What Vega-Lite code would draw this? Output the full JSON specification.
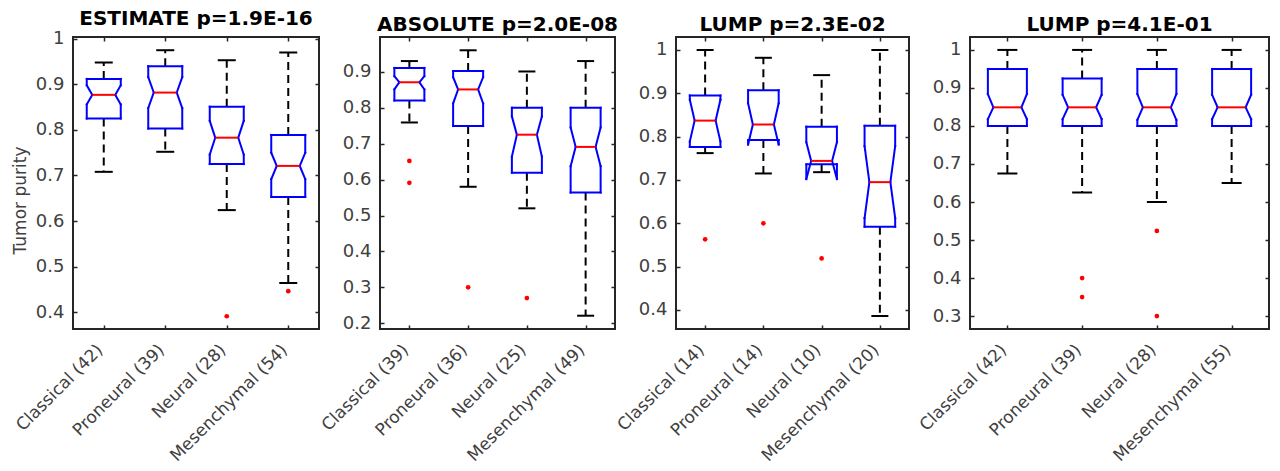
{
"$schema": "https://vega.github.io/schema/vega-lite/v6.json",
"padding": {"left": 10, "top": 7, "right": 5, "bottom": 0},
"spacing": 61,
"bounds": "flush",
"config": {
 "font": "DejaVu Sans",
 "view": {"stroke": "#262626", "strokeWidth": 2},
 "axis": {"labelFont": "DejaVu Sans", "labelFontSize": 17, "labelColor": "#404040", "domain": false, "grid": false, "tickColor": "#262626", "tickSize": -4, "tickWidth": 1.5, "titleFont": "DejaVu Sans", "titleFontSize": 17, "titleFontWeight": "normal", "titleColor": "#404040"},
 "axisY": {"labelPadding": 13, "labelFontSize": 18},
 "axisX": {"labelPadding": 22, "labelAlign": "right", "labelBaseline": "middle", "labelOffset": -4},
 "title": {"font": "DejaVu Sans", "fontSize": 20, "fontWeight": "bold", "color": "#000000", "offset": 1}
},
"data": {"values": [
 {"panel":"ESTIMATE","group":"Classical (42)","whi":0.948,"q3":0.912,"nhi":0.898,"med":0.877,"nlo":0.856,"q1":0.825,"wlo":0.708},
 {"panel":"ESTIMATE","group":"Proneural (39)","whi":0.975,"q3":0.94,"nhi":0.916,"med":0.882,"nlo":0.848,"q1":0.803,"wlo":0.752},
 {"panel":"ESTIMATE","group":"Neural (28)","whi":0.953,"q3":0.851,"nhi":0.82,"med":0.783,"nlo":0.746,"q1":0.725,"wlo":0.624},
 {"panel":"ESTIMATE","group":"Mesenchymal (54)","whi":0.97,"q3":0.789,"nhi":0.75,"med":0.721,"nlo":0.692,"q1":0.653,"wlo":0.464},
 {"panel":"ABSOLUTE","group":"Classical (39)","whi":0.93,"q3":0.911,"nhi":0.888,"med":0.871,"nlo":0.851,"q1":0.82,"wlo":0.759},
 {"panel":"ABSOLUTE","group":"Proneural (36)","whi":0.96,"q3":0.902,"nhi":0.885,"med":0.851,"nlo":0.812,"q1":0.749,"wlo":0.58},
 {"panel":"ABSOLUTE","group":"Neural (25)","whi":0.901,"q3":0.8,"nhi":0.776,"med":0.725,"nlo":0.664,"q1":0.619,"wlo":0.52},
 {"panel":"ABSOLUTE","group":"Mesenchymal (49)","whi":0.93,"q3":0.8,"nhi":0.745,"med":0.691,"nlo":0.637,"q1":0.564,"wlo":0.221},
 {"panel":"LUMP1","group":"Classical (14)","whi":1.0,"q3":0.895,"nhi":0.885,"med":0.837,"nlo":0.789,"q1":0.776,"wlo":0.762},
 {"panel":"LUMP1","group":"Proneural (14)","whi":0.982,"q3":0.907,"nhi":0.877,"med":0.828,"nlo":0.782,"q1":0.792,"wlo":0.715},
 {"panel":"LUMP1","group":"Neural (10)","whi":0.942,"q3":0.823,"nhi":0.787,"med":0.744,"nlo":0.702,"q1":0.736,"wlo":0.718},
 {"panel":"LUMP1","group":"Mesenchymal (20)","whi":1.0,"q3":0.825,"nhi":0.778,"med":0.695,"nlo":0.612,"q1":0.592,"wlo":0.386},
 {"panel":"LUMP2","group":"Classical (42)","whi":1.0,"q3":0.95,"nhi":0.884,"med":0.849,"nlo":0.818,"q1":0.8,"wlo":0.675},
 {"panel":"LUMP2","group":"Proneural (39)","whi":1.0,"q3":0.925,"nhi":0.882,"med":0.849,"nlo":0.818,"q1":0.8,"wlo":0.625},
 {"panel":"LUMP2","group":"Neural (28)","whi":1.0,"q3":0.95,"nhi":0.884,"med":0.849,"nlo":0.816,"q1":0.8,"wlo":0.6},
 {"panel":"LUMP2","group":"Mesenchymal (55)","whi":1.0,"q3":0.95,"nhi":0.882,"med":0.849,"nlo":0.818,"q1":0.8,"wlo":0.65},
 {"panel":"ESTIMATE","group":"Neural (28)","v":0.391},
 {"panel":"ESTIMATE","group":"Mesenchymal (54)","v":0.446},
 {"panel":"ABSOLUTE","group":"Classical (39)","v":0.652},
 {"panel":"ABSOLUTE","group":"Classical (39)","v":0.591},
 {"panel":"ABSOLUTE","group":"Proneural (36)","v":0.3},
 {"panel":"ABSOLUTE","group":"Neural (25)","v":0.27},
 {"panel":"LUMP1","group":"Classical (14)","v":0.563},
 {"panel":"LUMP1","group":"Proneural (14)","v":0.6},
 {"panel":"LUMP1","group":"Neural (10)","v":0.519},
 {"panel":"LUMP2","group":"Proneural (39)","v":0.4},
 {"panel":"LUMP2","group":"Proneural (39)","v":0.35},
 {"panel":"LUMP2","group":"Neural (28)","v":0.524},
 {"panel":"LUMP2","group":"Neural (28)","v":0.3}
]},
"hconcat": [
{
 "title": "ESTIMATE p=1.9E-16",
 "width": 246, "height": 292,
 "transform": [{"filter": "datum.panel === 'ESTIMATE'"}],
 "encoding": {"x": {"field": "group", "type": "nominal", "sort": null, "scale": {"type": "point", "padding": 0.5}, "axis": null}},
 "resolve": {"axis": {"x": "independent", "y": "independent"}},
 "layer": [
  {"mark": {"type": "rule", "color": "#000000", "strokeWidth": 2, "strokeDash": [8, 5]},
   "encoding": {"x": {"field": "group", "type": "nominal", "sort": null, "scale": {"type": "point", "padding": 0.5}, "axis": {"title": null, "labelAngle": -45}},
    "y": {"field": "q3", "type": "quantitative", "scale": {"domain": [0.363, 1.004], "nice": false, "zero": false}, "axis": {"title": "Tumor purity", "values": [0.4,0.5,0.6,0.7,0.8,0.9,1], "format": ".1~f", "titlePadding": 6, "titleY": 163}},
    "y2": {"field": "whi"}}},
  {"mark": {"type": "rule", "color": "#000000", "strokeWidth": 2, "strokeDash": [8, 5]},
   "encoding": {"y": {"field": "q1", "type": "quantitative", "scale": {"domain": [0.363, 1.004], "nice": false, "zero": false}, "axis": null}, "y2": {"field": "wlo"}}},
  {"mark": {"type": "rule", "color": "#000000", "strokeWidth": 2, "xOffset": -9, "x2Offset": 9},
   "encoding": {"x2": {"field": "group"}, "y": {"field": "whi", "type": "quantitative", "scale": {"domain": [0.363, 1.004], "nice": false, "zero": false}, "axis": null}}},
  {"mark": {"type": "rule", "color": "#000000", "strokeWidth": 2, "xOffset": -9, "x2Offset": 9},
   "encoding": {"x2": {"field": "group"}, "y": {"field": "wlo", "type": "quantitative", "scale": {"domain": [0.363, 1.004], "nice": false, "zero": false}, "axis": null}}},
  {"mark": {"type": "rule", "color": "#0000ff", "strokeWidth": 2, "strokeCap": "square", "xOffset": -17, "x2Offset": 17},
   "encoding": {"x2": {"field": "group"}, "y": {"field": "q3", "type": "quantitative", "scale": {"domain": [0.363, 1.004], "nice": false, "zero": false}, "axis": null}}},
  {"mark": {"type": "rule", "color": "#0000ff", "strokeWidth": 2, "strokeCap": "square", "xOffset": -17, "x2Offset": 17},
   "encoding": {"x2": {"field": "group"}, "y": {"field": "q1", "type": "quantitative", "scale": {"domain": [0.363, 1.004], "nice": false, "zero": false}, "axis": null}}},
  {"mark": {"type": "rule", "color": "#0000ff", "strokeWidth": 2, "strokeCap": "square", "xOffset": -17},
   "encoding": {"y": {"field": "q3", "type": "quantitative", "scale": {"domain": [0.363, 1.004], "nice": false, "zero": false}, "axis": null}, "y2": {"field": "nhi"}}},
  {"mark": {"type": "rule", "color": "#0000ff", "strokeWidth": 2, "strokeCap": "square", "xOffset": 17},
   "encoding": {"y": {"field": "q3", "type": "quantitative", "scale": {"domain": [0.363, 1.004], "nice": false, "zero": false}, "axis": null}, "y2": {"field": "nhi"}}},
  {"mark": {"type": "rule", "color": "#0000ff", "strokeWidth": 2, "strokeCap": "square", "xOffset": -17},
   "encoding": {"y": {"field": "nlo", "type": "quantitative", "scale": {"domain": [0.363, 1.004], "nice": false, "zero": false}, "axis": null}, "y2": {"field": "q1"}}},
  {"mark": {"type": "rule", "color": "#0000ff", "strokeWidth": 2, "strokeCap": "square", "xOffset": 17},
   "encoding": {"y": {"field": "nlo", "type": "quantitative", "scale": {"domain": [0.363, 1.004], "nice": false, "zero": false}, "axis": null}, "y2": {"field": "q1"}}},
  {"mark": {"type": "rule", "color": "#0000ff", "strokeWidth": 2, "strokeCap": "square", "xOffset": -17, "x2Offset": -11.5},
   "encoding": {"x2": {"field": "group"}, "y": {"field": "nhi", "type": "quantitative", "scale": {"domain": [0.363, 1.004], "nice": false, "zero": false}, "axis": null}, "y2": {"field": "med"}}},
  {"mark": {"type": "rule", "color": "#0000ff", "strokeWidth": 2, "strokeCap": "square", "xOffset": 17, "x2Offset": 11.5},
   "encoding": {"x2": {"field": "group"}, "y": {"field": "nhi", "type": "quantitative", "scale": {"domain": [0.363, 1.004], "nice": false, "zero": false}, "axis": null}, "y2": {"field": "med"}}},
  {"mark": {"type": "rule", "color": "#0000ff", "strokeWidth": 2, "strokeCap": "square", "xOffset": -17, "x2Offset": -11.5},
   "encoding": {"x2": {"field": "group"}, "y": {"field": "nlo", "type": "quantitative", "scale": {"domain": [0.363, 1.004], "nice": false, "zero": false}, "axis": null}, "y2": {"field": "med"}}},
  {"mark": {"type": "rule", "color": "#0000ff", "strokeWidth": 2, "strokeCap": "square", "xOffset": 17, "x2Offset": 11.5},
   "encoding": {"x2": {"field": "group"}, "y": {"field": "nlo", "type": "quantitative", "scale": {"domain": [0.363, 1.004], "nice": false, "zero": false}, "axis": null}, "y2": {"field": "med"}}},
  {"mark": {"type": "rule", "color": "#ff0000", "strokeWidth": 2, "xOffset": -11.5, "x2Offset": 11.5},
   "encoding": {"x": {"field": "group", "type": "nominal", "sort": null, "scale": {"type": "point", "padding": 0.5}, "axis": {"orient": "top", "labels": false, "title": null, "minExtent": 0, "maxExtent": 0}},
    "x2": {"field": "group"}, "y": {"field": "med", "type": "quantitative", "scale": {"domain": [0.363, 1.004], "nice": false, "zero": false}, "axis": {"orient": "right", "labels": false, "title": null, "values": [0.4,0.5,0.6,0.7,0.8,0.9,1], "minExtent": 0, "maxExtent": 0}}}},
  {"mark": {"type": "point", "filled": true, "color": "#ff0000", "size": 22, "opacity": 1},
   "encoding": {"y": {"field": "v", "type": "quantitative", "scale": {"domain": [0.363, 1.004], "nice": false, "zero": false}, "axis": null}}}
 ]
},
{
 "title": "ABSOLUTE p=2.0E-08",
 "width": 235, "height": 292,
 "transform": [{"filter": "datum.panel === 'ABSOLUTE'"}],
 "encoding": {"x": {"field": "group", "type": "nominal", "sort": null, "scale": {"type": "point", "padding": 0.5}, "axis": null}},
 "resolve": {"axis": {"x": "independent", "y": "independent"}},
 "layer": [
  {"mark": {"type": "rule", "color": "#000000", "strokeWidth": 2, "strokeDash": [8, 5]},
   "encoding": {"x": {"field": "group", "type": "nominal", "sort": null, "scale": {"type": "point", "padding": 0.5}, "axis": {"title": null, "labelAngle": -45}},
    "y": {"field": "q3", "type": "quantitative", "scale": {"domain": [0.184, 0.997], "nice": false, "zero": false}, "axis": {"title": null, "values": [0.2,0.3,0.4,0.5,0.6,0.7,0.8,0.9], "format": ".1~f"}},
    "y2": {"field": "whi"}}},
  {"mark": {"type": "rule", "color": "#000000", "strokeWidth": 2, "strokeDash": [8, 5]},
   "encoding": {"y": {"field": "q1", "type": "quantitative", "scale": {"domain": [0.184, 0.997], "nice": false, "zero": false}, "axis": null}, "y2": {"field": "wlo"}}},
  {"mark": {"type": "rule", "color": "#000000", "strokeWidth": 2, "xOffset": -8.5, "x2Offset": 8.5},
   "encoding": {"x2": {"field": "group"}, "y": {"field": "whi", "type": "quantitative", "scale": {"domain": [0.184, 0.997], "nice": false, "zero": false}, "axis": null}}},
  {"mark": {"type": "rule", "color": "#000000", "strokeWidth": 2, "xOffset": -8.5, "x2Offset": 8.5},
   "encoding": {"x2": {"field": "group"}, "y": {"field": "wlo", "type": "quantitative", "scale": {"domain": [0.184, 0.997], "nice": false, "zero": false}, "axis": null}}},
  {"mark": {"type": "rule", "color": "#0000ff", "strokeWidth": 2, "strokeCap": "square", "xOffset": -15, "x2Offset": 15},
   "encoding": {"x2": {"field": "group"}, "y": {"field": "q3", "type": "quantitative", "scale": {"domain": [0.184, 0.997], "nice": false, "zero": false}, "axis": null}}},
  {"mark": {"type": "rule", "color": "#0000ff", "strokeWidth": 2, "strokeCap": "square", "xOffset": -15, "x2Offset": 15},
   "encoding": {"x2": {"field": "group"}, "y": {"field": "q1", "type": "quantitative", "scale": {"domain": [0.184, 0.997], "nice": false, "zero": false}, "axis": null}}},
  {"mark": {"type": "rule", "color": "#0000ff", "strokeWidth": 2, "strokeCap": "square", "xOffset": -15},
   "encoding": {"y": {"field": "q3", "type": "quantitative", "scale": {"domain": [0.184, 0.997], "nice": false, "zero": false}, "axis": null}, "y2": {"field": "nhi"}}},
  {"mark": {"type": "rule", "color": "#0000ff", "strokeWidth": 2, "strokeCap": "square", "xOffset": 15},
   "encoding": {"y": {"field": "q3", "type": "quantitative", "scale": {"domain": [0.184, 0.997], "nice": false, "zero": false}, "axis": null}, "y2": {"field": "nhi"}}},
  {"mark": {"type": "rule", "color": "#0000ff", "strokeWidth": 2, "strokeCap": "square", "xOffset": -15},
   "encoding": {"y": {"field": "nlo", "type": "quantitative", "scale": {"domain": [0.184, 0.997], "nice": false, "zero": false}, "axis": null}, "y2": {"field": "q1"}}},
  {"mark": {"type": "rule", "color": "#0000ff", "strokeWidth": 2, "strokeCap": "square", "xOffset": 15},
   "encoding": {"y": {"field": "nlo", "type": "quantitative", "scale": {"domain": [0.184, 0.997], "nice": false, "zero": false}, "axis": null}, "y2": {"field": "q1"}}},
  {"mark": {"type": "rule", "color": "#0000ff", "strokeWidth": 2, "strokeCap": "square", "xOffset": -15, "x2Offset": -10},
   "encoding": {"x2": {"field": "group"}, "y": {"field": "nhi", "type": "quantitative", "scale": {"domain": [0.184, 0.997], "nice": false, "zero": false}, "axis": null}, "y2": {"field": "med"}}},
  {"mark": {"type": "rule", "color": "#0000ff", "strokeWidth": 2, "strokeCap": "square", "xOffset": 15, "x2Offset": 10},
   "encoding": {"x2": {"field": "group"}, "y": {"field": "nhi", "type": "quantitative", "scale": {"domain": [0.184, 0.997], "nice": false, "zero": false}, "axis": null}, "y2": {"field": "med"}}},
  {"mark": {"type": "rule", "color": "#0000ff", "strokeWidth": 2, "strokeCap": "square", "xOffset": -15, "x2Offset": -10},
   "encoding": {"x2": {"field": "group"}, "y": {"field": "nlo", "type": "quantitative", "scale": {"domain": [0.184, 0.997], "nice": false, "zero": false}, "axis": null}, "y2": {"field": "med"}}},
  {"mark": {"type": "rule", "color": "#0000ff", "strokeWidth": 2, "strokeCap": "square", "xOffset": 15, "x2Offset": 10},
   "encoding": {"x2": {"field": "group"}, "y": {"field": "nlo", "type": "quantitative", "scale": {"domain": [0.184, 0.997], "nice": false, "zero": false}, "axis": null}, "y2": {"field": "med"}}},
  {"mark": {"type": "rule", "color": "#ff0000", "strokeWidth": 2, "xOffset": -10, "x2Offset": 10},
   "encoding": {"x": {"field": "group", "type": "nominal", "sort": null, "scale": {"type": "point", "padding": 0.5}, "axis": {"orient": "top", "labels": false, "title": null, "minExtent": 0, "maxExtent": 0}},
    "x2": {"field": "group"}, "y": {"field": "med", "type": "quantitative", "scale": {"domain": [0.184, 0.997], "nice": false, "zero": false}, "axis": {"orient": "right", "labels": false, "title": null, "values": [0.2,0.3,0.4,0.5,0.6,0.7,0.8,0.9], "minExtent": 0, "maxExtent": 0}}}},
  {"mark": {"type": "point", "filled": true, "color": "#ff0000", "size": 22, "opacity": 1},
   "encoding": {"y": {"field": "v", "type": "quantitative", "scale": {"domain": [0.184, 0.997], "nice": false, "zero": false}, "axis": null}}}
 ]
},
{
 "title": "LUMP p=2.3E-02",
 "width": 233, "height": 292,
 "transform": [{"filter": "datum.panel === 'LUMP1'"}],
 "encoding": {"x": {"field": "group", "type": "nominal", "sort": null, "scale": {"type": "point", "padding": 0.5}, "axis": null}},
 "resolve": {"axis": {"x": "independent", "y": "independent"}},
 "layer": [
  {"mark": {"type": "rule", "color": "#000000", "strokeWidth": 2, "strokeDash": [8, 5]},
   "encoding": {"x": {"field": "group", "type": "nominal", "sort": null, "scale": {"type": "point", "padding": 0.5}, "axis": {"title": null, "labelAngle": -45}},
    "y": {"field": "q3", "type": "quantitative", "scale": {"domain": [0.356, 1.03], "nice": false, "zero": false}, "axis": {"title": null, "values": [0.4,0.5,0.6,0.7,0.8,0.9,1], "format": ".1~f"}},
    "y2": {"field": "whi"}}},
  {"mark": {"type": "rule", "color": "#000000", "strokeWidth": 2, "strokeDash": [8, 5]},
   "encoding": {"y": {"field": "q1", "type": "quantitative", "scale": {"domain": [0.356, 1.03], "nice": false, "zero": false}, "axis": null}, "y2": {"field": "wlo"}}},
  {"mark": {"type": "rule", "color": "#000000", "strokeWidth": 2, "xOffset": -8.5, "x2Offset": 8.5},
   "encoding": {"x2": {"field": "group"}, "y": {"field": "whi", "type": "quantitative", "scale": {"domain": [0.356, 1.03], "nice": false, "zero": false}, "axis": null}}},
  {"mark": {"type": "rule", "color": "#000000", "strokeWidth": 2, "xOffset": -8.5, "x2Offset": 8.5},
   "encoding": {"x2": {"field": "group"}, "y": {"field": "wlo", "type": "quantitative", "scale": {"domain": [0.356, 1.03], "nice": false, "zero": false}, "axis": null}}},
  {"mark": {"type": "rule", "color": "#0000ff", "strokeWidth": 2, "strokeCap": "square", "xOffset": -15.3, "x2Offset": 15.3},
   "encoding": {"x2": {"field": "group"}, "y": {"field": "q3", "type": "quantitative", "scale": {"domain": [0.356, 1.03], "nice": false, "zero": false}, "axis": null}}},
  {"mark": {"type": "rule", "color": "#0000ff", "strokeWidth": 2, "strokeCap": "square", "xOffset": -15.3, "x2Offset": 15.3},
   "encoding": {"x2": {"field": "group"}, "y": {"field": "q1", "type": "quantitative", "scale": {"domain": [0.356, 1.03], "nice": false, "zero": false}, "axis": null}}},
  {"mark": {"type": "rule", "color": "#0000ff", "strokeWidth": 2, "strokeCap": "square", "xOffset": -15.3},
   "encoding": {"y": {"field": "q3", "type": "quantitative", "scale": {"domain": [0.356, 1.03], "nice": false, "zero": false}, "axis": null}, "y2": {"field": "nhi"}}},
  {"mark": {"type": "rule", "color": "#0000ff", "strokeWidth": 2, "strokeCap": "square", "xOffset": 15.3},
   "encoding": {"y": {"field": "q3", "type": "quantitative", "scale": {"domain": [0.356, 1.03], "nice": false, "zero": false}, "axis": null}, "y2": {"field": "nhi"}}},
  {"mark": {"type": "rule", "color": "#0000ff", "strokeWidth": 2, "strokeCap": "square", "xOffset": -15.3},
   "encoding": {"y": {"field": "nlo", "type": "quantitative", "scale": {"domain": [0.356, 1.03], "nice": false, "zero": false}, "axis": null}, "y2": {"field": "q1"}}},
  {"mark": {"type": "rule", "color": "#0000ff", "strokeWidth": 2, "strokeCap": "square", "xOffset": 15.3},
   "encoding": {"y": {"field": "nlo", "type": "quantitative", "scale": {"domain": [0.356, 1.03], "nice": false, "zero": false}, "axis": null}, "y2": {"field": "q1"}}},
  {"mark": {"type": "rule", "color": "#0000ff", "strokeWidth": 2, "strokeCap": "square", "xOffset": -15.3, "x2Offset": -10.5},
   "encoding": {"x2": {"field": "group"}, "y": {"field": "nhi", "type": "quantitative", "scale": {"domain": [0.356, 1.03], "nice": false, "zero": false}, "axis": null}, "y2": {"field": "med"}}},
  {"mark": {"type": "rule", "color": "#0000ff", "strokeWidth": 2, "strokeCap": "square", "xOffset": 15.3, "x2Offset": 10.5},
   "encoding": {"x2": {"field": "group"}, "y": {"field": "nhi", "type": "quantitative", "scale": {"domain": [0.356, 1.03], "nice": false, "zero": false}, "axis": null}, "y2": {"field": "med"}}},
  {"mark": {"type": "rule", "color": "#0000ff", "strokeWidth": 2, "strokeCap": "square", "xOffset": -15.3, "x2Offset": -10.5},
   "encoding": {"x2": {"field": "group"}, "y": {"field": "nlo", "type": "quantitative", "scale": {"domain": [0.356, 1.03], "nice": false, "zero": false}, "axis": null}, "y2": {"field": "med"}}},
  {"mark": {"type": "rule", "color": "#0000ff", "strokeWidth": 2, "strokeCap": "square", "xOffset": 15.3, "x2Offset": 10.5},
   "encoding": {"x2": {"field": "group"}, "y": {"field": "nlo", "type": "quantitative", "scale": {"domain": [0.356, 1.03], "nice": false, "zero": false}, "axis": null}, "y2": {"field": "med"}}},
  {"mark": {"type": "rule", "color": "#ff0000", "strokeWidth": 2, "xOffset": -10.5, "x2Offset": 10.5},
   "encoding": {"x": {"field": "group", "type": "nominal", "sort": null, "scale": {"type": "point", "padding": 0.5}, "axis": {"orient": "top", "labels": false, "title": null, "minExtent": 0, "maxExtent": 0}},
    "x2": {"field": "group"}, "y": {"field": "med", "type": "quantitative", "scale": {"domain": [0.356, 1.03], "nice": false, "zero": false}, "axis": {"orient": "right", "labels": false, "title": null, "values": [0.4,0.5,0.6,0.7,0.8,0.9,1], "minExtent": 0, "maxExtent": 0}}}},
  {"mark": {"type": "point", "filled": true, "color": "#ff0000", "size": 22, "opacity": 1},
   "encoding": {"y": {"field": "v", "type": "quantitative", "scale": {"domain": [0.356, 1.03], "nice": false, "zero": false}, "axis": null}}}
 ]
},
{
 "title": "LUMP p=4.1E-01",
 "width": 299, "height": 292,
 "transform": [{"filter": "datum.panel === 'LUMP2'"}],
 "encoding": {"x": {"field": "group", "type": "nominal", "sort": null, "scale": {"type": "point", "padding": 0.5}, "axis": null}},
 "resolve": {"axis": {"x": "independent", "y": "independent"}},
 "layer": [
  {"mark": {"type": "rule", "color": "#000000", "strokeWidth": 2, "strokeDash": [8, 5]},
   "encoding": {"x": {"field": "group", "type": "nominal", "sort": null, "scale": {"type": "point", "padding": 0.5}, "axis": {"title": null, "labelAngle": -45}},
    "y": {"field": "q3", "type": "quantitative", "scale": {"domain": [0.266, 1.034], "nice": false, "zero": false}, "axis": {"title": null, "values": [0.3,0.4,0.5,0.6,0.7,0.8,0.9,1], "format": ".1~f"}},
    "y2": {"field": "whi"}}},
  {"mark": {"type": "rule", "color": "#000000", "strokeWidth": 2, "strokeDash": [8, 5]},
   "encoding": {"y": {"field": "q1", "type": "quantitative", "scale": {"domain": [0.266, 1.034], "nice": false, "zero": false}, "axis": null}, "y2": {"field": "wlo"}}},
  {"mark": {"type": "rule", "color": "#000000", "strokeWidth": 2, "xOffset": -10, "x2Offset": 10},
   "encoding": {"x2": {"field": "group"}, "y": {"field": "whi", "type": "quantitative", "scale": {"domain": [0.266, 1.034], "nice": false, "zero": false}, "axis": null}}},
  {"mark": {"type": "rule", "color": "#000000", "strokeWidth": 2, "xOffset": -10, "x2Offset": 10},
   "encoding": {"x2": {"field": "group"}, "y": {"field": "wlo", "type": "quantitative", "scale": {"domain": [0.266, 1.034], "nice": false, "zero": false}, "axis": null}}},
  {"mark": {"type": "rule", "color": "#0000ff", "strokeWidth": 2, "strokeCap": "square", "xOffset": -19.5, "x2Offset": 19.5},
   "encoding": {"x2": {"field": "group"}, "y": {"field": "q3", "type": "quantitative", "scale": {"domain": [0.266, 1.034], "nice": false, "zero": false}, "axis": null}}},
  {"mark": {"type": "rule", "color": "#0000ff", "strokeWidth": 2, "strokeCap": "square", "xOffset": -19.5, "x2Offset": 19.5},
   "encoding": {"x2": {"field": "group"}, "y": {"field": "q1", "type": "quantitative", "scale": {"domain": [0.266, 1.034], "nice": false, "zero": false}, "axis": null}}},
  {"mark": {"type": "rule", "color": "#0000ff", "strokeWidth": 2, "strokeCap": "square", "xOffset": -19.5},
   "encoding": {"y": {"field": "q3", "type": "quantitative", "scale": {"domain": [0.266, 1.034], "nice": false, "zero": false}, "axis": null}, "y2": {"field": "nhi"}}},
  {"mark": {"type": "rule", "color": "#0000ff", "strokeWidth": 2, "strokeCap": "square", "xOffset": 19.5},
   "encoding": {"y": {"field": "q3", "type": "quantitative", "scale": {"domain": [0.266, 1.034], "nice": false, "zero": false}, "axis": null}, "y2": {"field": "nhi"}}},
  {"mark": {"type": "rule", "color": "#0000ff", "strokeWidth": 2, "strokeCap": "square", "xOffset": -19.5},
   "encoding": {"y": {"field": "nlo", "type": "quantitative", "scale": {"domain": [0.266, 1.034], "nice": false, "zero": false}, "axis": null}, "y2": {"field": "q1"}}},
  {"mark": {"type": "rule", "color": "#0000ff", "strokeWidth": 2, "strokeCap": "square", "xOffset": 19.5},
   "encoding": {"y": {"field": "nlo", "type": "quantitative", "scale": {"domain": [0.266, 1.034], "nice": false, "zero": false}, "axis": null}, "y2": {"field": "q1"}}},
  {"mark": {"type": "rule", "color": "#0000ff", "strokeWidth": 2, "strokeCap": "square", "xOffset": -19.5, "x2Offset": -14},
   "encoding": {"x2": {"field": "group"}, "y": {"field": "nhi", "type": "quantitative", "scale": {"domain": [0.266, 1.034], "nice": false, "zero": false}, "axis": null}, "y2": {"field": "med"}}},
  {"mark": {"type": "rule", "color": "#0000ff", "strokeWidth": 2, "strokeCap": "square", "xOffset": 19.5, "x2Offset": 14},
   "encoding": {"x2": {"field": "group"}, "y": {"field": "nhi", "type": "quantitative", "scale": {"domain": [0.266, 1.034], "nice": false, "zero": false}, "axis": null}, "y2": {"field": "med"}}},
  {"mark": {"type": "rule", "color": "#0000ff", "strokeWidth": 2, "strokeCap": "square", "xOffset": -19.5, "x2Offset": -14},
   "encoding": {"x2": {"field": "group"}, "y": {"field": "nlo", "type": "quantitative", "scale": {"domain": [0.266, 1.034], "nice": false, "zero": false}, "axis": null}, "y2": {"field": "med"}}},
  {"mark": {"type": "rule", "color": "#0000ff", "strokeWidth": 2, "strokeCap": "square", "xOffset": 19.5, "x2Offset": 14},
   "encoding": {"x2": {"field": "group"}, "y": {"field": "nlo", "type": "quantitative", "scale": {"domain": [0.266, 1.034], "nice": false, "zero": false}, "axis": null}, "y2": {"field": "med"}}},
  {"mark": {"type": "rule", "color": "#ff0000", "strokeWidth": 2, "xOffset": -14, "x2Offset": 14},
   "encoding": {"x": {"field": "group", "type": "nominal", "sort": null, "scale": {"type": "point", "padding": 0.5}, "axis": {"orient": "top", "labels": false, "title": null, "minExtent": 0, "maxExtent": 0}},
    "x2": {"field": "group"}, "y": {"field": "med", "type": "quantitative", "scale": {"domain": [0.266, 1.034], "nice": false, "zero": false}, "axis": {"orient": "right", "labels": false, "title": null, "values": [0.3,0.4,0.5,0.6,0.7,0.8,0.9,1], "minExtent": 0, "maxExtent": 0}}}},
  {"mark": {"type": "point", "filled": true, "color": "#ff0000", "size": 22, "opacity": 1},
   "encoding": {"y": {"field": "v", "type": "quantitative", "scale": {"domain": [0.266, 1.034], "nice": false, "zero": false}, "axis": null}}}
 ]
}
]
}
